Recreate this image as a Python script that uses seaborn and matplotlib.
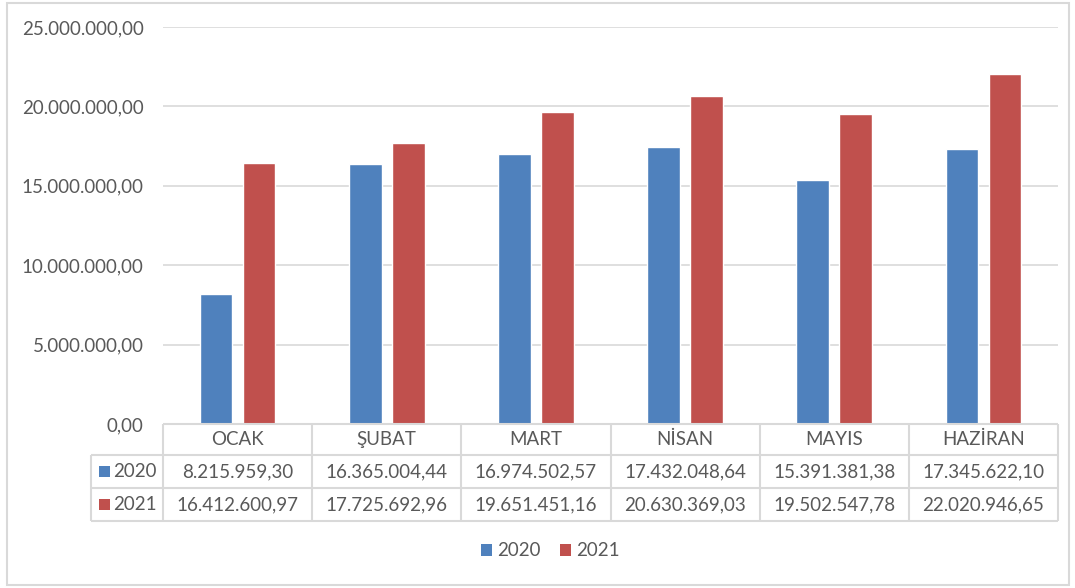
import matplotlib
matplotlib.use("Agg")
import matplotlib.pyplot as plt
import matplotlib.transforms as mtransforms
from matplotlib.patches import Rectangle
from matplotlib.ticker import FuncFormatter, MultipleLocator
import seaborn as sns
import pandas as pd

months = ["OCAK", "ŞUBAT", "MART", "NİSAN", "MAYIS", "HAZİRAN"]
years = ["2020", "2021"]
values_2020 = [8215959.30, 16365004.44, 16974502.57, 17432048.64, 15391381.38, 17345622.10]
values_2021 = [16412600.97, 17725692.96, 19651451.16, 20630369.03, 19502547.78, 22020946.65]
colors = {"2020": "#4F81BD", "2021": "#C0504D"}

sns.set_theme(style="white")
plt.rcParams["font.family"] = ["Lato", "DejaVu Sans"]

TEXT = "#595959"
GRID = "#D9D9D9"
FS = 13.5


def tr_fmt(v):
    s = f"{v:,.2f}"
    return s.replace(",", "X").replace(".", ",").replace("X", ".")


df = pd.DataFrame({
    "month": months * 2,
    "year": [years[0]] * len(months) + [years[1]] * len(months),
    "value": values_2020 + values_2021,
})

fig = plt.figure(figsize=(10.75, 5.88), dpi=100)
ax = fig.add_axes([163 / 1075, 1 - 424 / 588, (1058 - 163) / 1075, (424 - 27) / 588])

sns.barplot(data=df, x="month", y="value", hue="year", order=months, hue_order=years,
            palette=colors, width=0.577, gap=0.24, dodge=True, ax=ax,
            legend=False, errorbar=None, saturation=1)

ax.set_xlim(-0.5, len(months) - 0.5)
ax.set_ylim(0, 25_000_000)
ax.yaxis.set_major_locator(MultipleLocator(5_000_000))
ax.yaxis.set_major_formatter(FuncFormatter(lambda v, p: tr_fmt(v)))
ax.grid(axis="y", color=GRID, linewidth=1.2)
ax.set_axisbelow(True)
for s in ax.spines.values():
    s.set_visible(False)
ax.tick_params(axis="y", length=0, pad=14, labelsize=FS, labelcolor=TEXT)
ax.set_xticks([])
ax.set_xlabel("")
ax.set_ylabel("")

# ---- data table ----
trans = mtransforms.blended_transform_factory(ax.transData, ax.transAxes)
H = 397.0
y_hdr_bot = -31 / H
y_r1_bot = -64 / H
y_r2_bot = -97 / H
lab_left = (91 - 163) / 895.0
lkw = dict(color=GRID, linewidth=1.5, clip_on=False, solid_capstyle="butt")

# horizontal lines
ax.plot([-0.5, len(months) - 0.5], [0, 0], transform=trans, **lkw)
for yy in (y_hdr_bot, y_r1_bot, y_r2_bot):
    ax.plot([lab_left, 1], [yy, yy], transform=ax.transAxes, **lkw)
# vertical lines
for i in range(len(months) + 1):
    ax.plot([i - 0.5, i - 0.5], [0, y_r2_bot], transform=trans, **lkw)
ax.plot([lab_left, lab_left], [y_hdr_bot, y_r2_bot], transform=ax.transAxes, **lkw)

for i, m in enumerate(months):
    ax.text(i, y_hdr_bot / 2, m, transform=trans, ha="center", va="center",
            fontsize=FS, color=TEXT)
    ax.text(i, (y_hdr_bot + y_r1_bot) / 2, tr_fmt(values_2020[i]), transform=trans,
            ha="center", va="center", fontsize=FS, color=TEXT)
    ax.text(i, (y_r1_bot + y_r2_bot) / 2, tr_fmt(values_2021[i]), transform=trans,
            ha="center", va="center", fontsize=FS, color=TEXT)

sq = 11 / 895.0
sqh = 11 / H
for yr, (ytop, ybot) in zip(years, [(y_hdr_bot, y_r1_bot), (y_r1_bot, y_r2_bot)]):
    yc = (ytop + ybot) / 2
    ax.add_patch(Rectangle((-0.0715, yc - sqh / 2), sq, sqh, transform=ax.transAxes,
                           facecolor=colors[yr], edgecolor="none", clip_on=False))
    ax.text(-0.0555, yc, yr, transform=ax.transAxes, ha="left", va="center",
            fontsize=FS, color=TEXT)

# ---- legend ----
handles = [Rectangle((0, 0), 1, 1, facecolor=colors[y], edgecolor="none") for y in years]
fig.legend(handles, years, loc="center", bbox_to_anchor=(0.512, 1 - 551 / 588), ncol=2,
           frameon=False, fontsize=FS, labelcolor=TEXT, handlelength=0.6, handleheight=0.6,
           handletextpad=0.3, columnspacing=1.0)

# outer border
fig.patches.append(Rectangle((7 / 1075, 3 / 588), (1069 - 7) / 1075, (585 - 3) / 588,
                             transform=fig.transFigure, facecolor="none",
                             edgecolor=GRID, linewidth=1.5))

fig.savefig("out.png", dpi=100, facecolor="white")
